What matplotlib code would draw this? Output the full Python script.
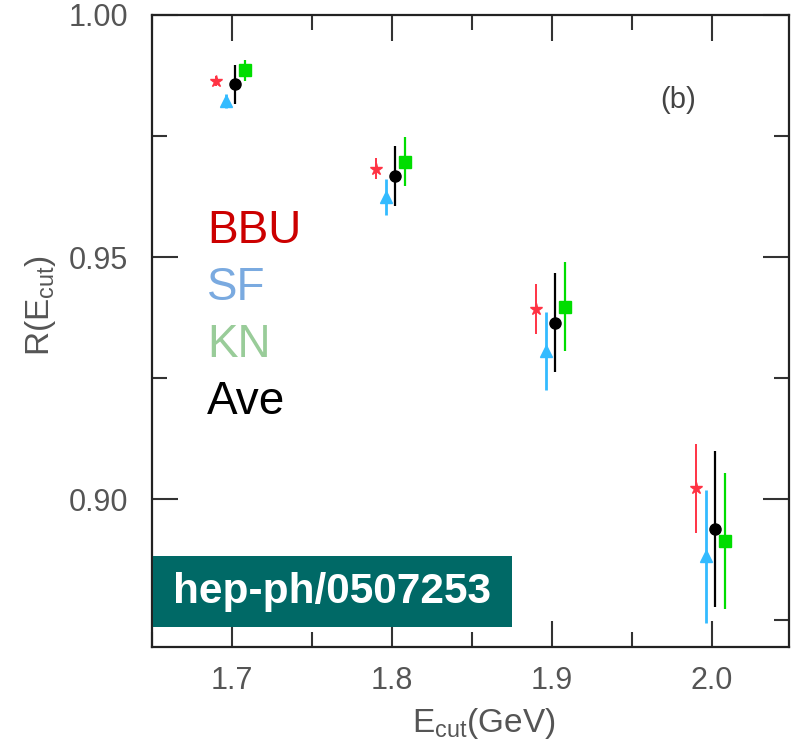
import matplotlib.pyplot as plt
from matplotlib.patches import Rectangle
from matplotlib.ticker import MultipleLocator

plt.rcParams['font.family'] = ['Liberation Sans', 'DejaVu Sans']
plt.rcParams['mathtext.fontset'] = 'custom'
plt.rcParams['mathtext.rm'] = 'Liberation Sans'
plt.rcParams['mathtext.it'] = 'Liberation Sans'

# cut energies (GeV) and R(E_cut) from the three models and their average
ecut = [1.7, 1.8, 1.9, 2.0]
r_bbu = [0.9864, 0.9683, 0.9393, 0.9023]
err_bbu = [0.0010, 0.0022, 0.0051, 0.0092]
r_sf = [0.9822, 0.9624, 0.9306, 0.8882]
err_sf = [0.0015, 0.0037, 0.0081, 0.0138]
r_kn = [0.9886, 0.9697, 0.9398, 0.8914]
err_kn = [0.0022, 0.0051, 0.0092, 0.0140]
r_ave = [0.9857, 0.9668, 0.9365, 0.8939]
err_ave = [0.0040, 0.0062, 0.0103, 0.0161]

series = [
    # values, errors, shift, colour, marker, size, line width
    (r_bbu, err_bbu, -0.010, '#ff3344', '*', 9, 1.4),
    (r_sf, err_sf, -0.004, '#33bbff', '^', 8, 2.0),
    (r_kn, err_kn, 0.008, '#00dd00', 's', 8.5, 1.6),
    (r_ave, err_ave, 0.002, 'black', 'o', 8, 1.6),
]

fig = plt.figure(figsize=(7.92, 7.46), dpi=100)
ax = fig.add_axes([152/792, 99/746, 637/792, 632/746])

for vals, errs, dx, col, mk, ms, lw in series:
    xs = [e + dx for e in ecut]
    ax.errorbar(xs, vals, yerr=errs, fmt=mk, color=col, ms=ms, elinewidth=lw,
                capsize=0, mec=col, mfc=col)

ax.set_xlim(1.65, 2.048)
ax.set_ylim(0.8695, 1.0)
ax.xaxis.set_major_locator(MultipleLocator(0.1))
ax.xaxis.set_minor_locator(MultipleLocator(0.05))
ax.yaxis.set_major_locator(MultipleLocator(0.05))
ax.yaxis.set_minor_locator(MultipleLocator(0.025))
ax.set_xticks([1.7, 1.8, 1.9, 2.0])
ax.set_xticklabels(['1.7', '1.8', '1.9', '2.0'])
ax.set_yticks([0.90, 0.95, 1.00])
ax.set_yticklabels(['0.90', '0.95', '1.00'])

ax.tick_params(which='both', direction='in', top=True, right=True,
               colors='#333333', labelcolor='#555555', labelsize=22, width=1.5)
ax.tick_params(axis='y', which='both', pad=17)
ax.tick_params(axis='x', which='both', pad=14)
ax.tick_params(which='major', length=19)
ax.tick_params(which='minor', length=11)
for sp in ax.spines.values():
    sp.set_linewidth(1.6)
    sp.set_color('#222222')

ax.set_xlabel(r'E$_{\mathrm{cut}}$(GeV)', fontsize=24, color='#555555')
ax.set_ylabel(r'R(E$_{\mathrm{cut}}$)', fontsize=24, color='#555555')
ax.yaxis.set_label_coords(-0.148, 0.54)
ax.xaxis.set_label_coords(0.521, -0.093)

ax.text(0.826, 0.866, '(b)', transform=ax.transAxes, fontsize=21,
        color='#444444', ha='center', va='center')

# model names written as a coloured key
names = ['BBU', 'SF', 'KN', 'Ave']
name_cols = ['#cc0000', '#7aaae0', '#99cc99', 'black']
for i, (nm, c) in enumerate(zip(names, name_cols)):
    fig.text(207/792, 1 - (243 + 57*i)/746, nm, fontsize=33, color=c,
             ha='left', va='baseline')

fig.patches.append(Rectangle((153/792, 1 - 627/746), 359/792, 71/746,
                             transform=fig.transFigure, fc='#006966', ec='none',
                             zorder=9))
fig.text(332/792, 1 - 592/746, 'hep-ph/0507253', fontsize=30.5, fontweight='bold',
         color='white', ha='center', va='center', zorder=10)

fig.savefig('out.png', dpi=100)
